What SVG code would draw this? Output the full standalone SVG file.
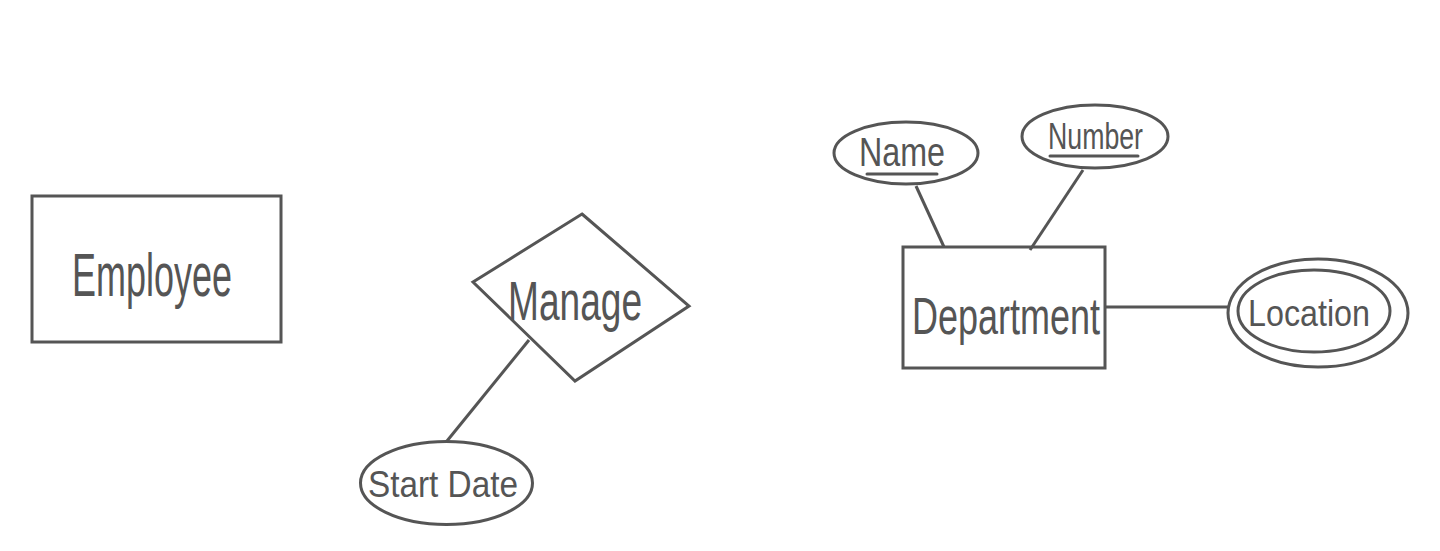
<svg xmlns="http://www.w3.org/2000/svg" width="1440" height="551" viewBox="0 0 1440 551">
<style>
.s{fill:none;stroke:#555;stroke-width:3;stroke-linejoin:miter}
.t{fill:#555;font-family:"Liberation Sans",Arial,sans-serif;text-anchor:start}
.u{stroke:#555;stroke-width:3;stroke-linecap:round}
</style>
<rect width="1440" height="551" fill="#fff"/>
<g id="connectors">
<line class="s" x1="529" y1="340" x2="447" y2="441"/>
<line class="s" x1="916" y1="186" x2="944" y2="247"/>
<line class="s" x1="1083" y1="170" x2="1030" y2="250"/>
<line class="s" x1="1105" y1="307" x2="1229" y2="307"/>
</g>
<g id="employee">
<rect class="s" x="32" y="196" width="249" height="146"/>
<text class="t" x="72" y="296" font-size="62" textLength="160" lengthAdjust="spacingAndGlyphs">Employee</text>
</g>
<g id="manage">
<polygon class="s" points="582,214 689,306 575,381 473,282"/>
<text class="t" x="508" y="320" font-size="56" textLength="134" lengthAdjust="spacingAndGlyphs">Manage</text>
</g>
<g id="startdate">
<ellipse class="s" cx="446.5" cy="483" rx="86" ry="41.5"/>
<text class="t" x="368" y="497" font-size="36" textLength="150" lengthAdjust="spacingAndGlyphs">Start Date</text>
</g>
<g id="name">
<ellipse class="s" cx="906" cy="153" rx="72" ry="31"/>
<text class="t" x="859" y="166" font-size="40" textLength="86" lengthAdjust="spacingAndGlyphs">Name</text>
<line class="u" x1="867" y1="174" x2="937" y2="174"/>
</g>
<g id="number">
<ellipse class="s" cx="1095" cy="136.5" rx="73" ry="31.5"/>
<text class="t" x="1048" y="149" font-size="36" textLength="95" lengthAdjust="spacingAndGlyphs">Number</text>
<line class="u" x1="1050" y1="156" x2="1138" y2="156"/>
</g>
<g id="department">
<rect class="s" x="903" y="247" width="202" height="121"/>
<text class="t" x="912" y="334" font-size="52" textLength="188" lengthAdjust="spacingAndGlyphs">Department</text>
</g>
<g id="location">
<ellipse class="s" cx="1318" cy="313" rx="90" ry="54"/>
<ellipse class="s" cx="1314" cy="311" rx="76" ry="41"/>
<text class="t" x="1248" y="326" font-size="36" textLength="122" lengthAdjust="spacingAndGlyphs">Location</text>
</g>
</svg>
